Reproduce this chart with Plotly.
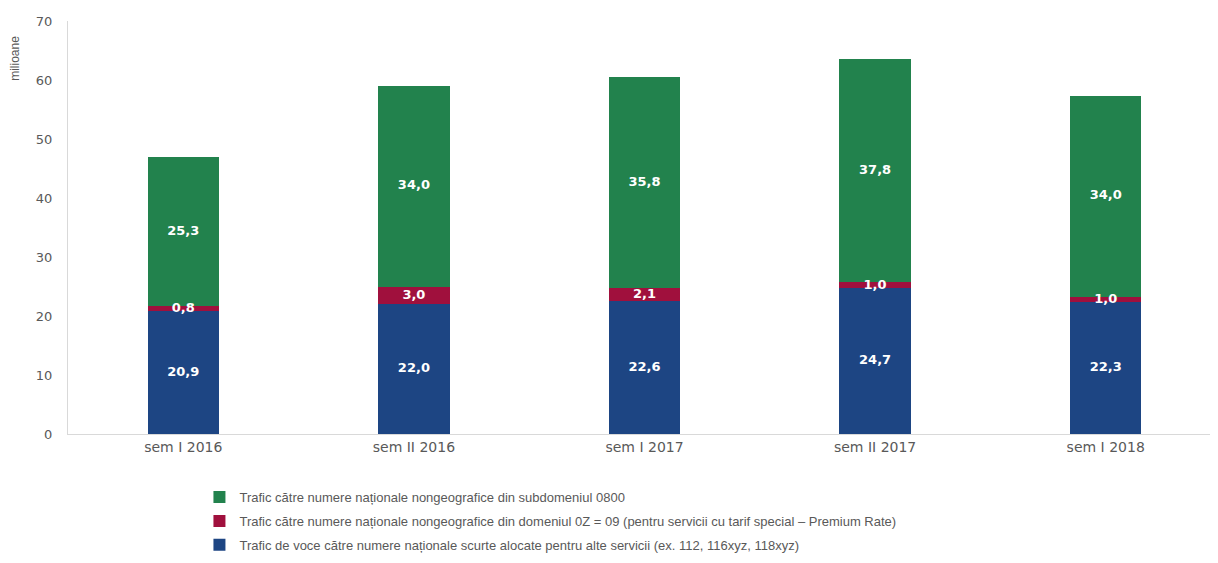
import plotly.graph_objects as go

# Data (milioane)
categories = ["sem I 2016", "sem II 2016", "sem I 2017", "sem II 2017", "sem I 2018"]
voce_scurte = [20.9, 22.0, 22.6, 24.7, 22.3]
premium_rate = [0.8, 3.0, 2.1, 1.0, 1.0]
subdomeniul_0800 = [25.3, 34.0, 35.8, 37.8, 34.0]
y_ticks = [0, 10, 20, 30, 40, 50, 60, 70]

names = [
    "Trafic de voce către numere naționale scurte alocate pentru alte servicii (ex. 112, 116xyz, 118xyz)",
    "Trafic către numere naționale nongeografice din domeniul 0Z = 09 (pentru servicii cu tarif special – Premium Rate)",
    "Trafic către numere naționale nongeografice din subdomeniul 0800",
]
series = [voce_scurte, premium_rate, subdomeniul_0800]
colors = ["#1d4583", "#a0103d", "#22824d"]

AXIS_FONT = "DejaVu Sans, Verdana, sans-serif"
LEGEND_FONT = "Liberation Sans, Arial, sans-serif"

fig = go.Figure()

base = [0.0] * len(categories)
for i, (name, vals, col) in enumerate(zip(names, series, colors)):
    # legend lists the top segment first
    rank = (len(series) - i) * 10
    fig.add_trace(go.Bar(
        x=categories, y=vals, name=name,
        marker=dict(color=col, line=dict(width=0)),
        width=0.31, legendgroup=f"g{i}", legendrank=rank,
        hoverinfo="skip",
    ))
    # value labels at the middle of each segment
    mids = [b + v / 2 for b, v in zip(base, vals)]
    fig.add_trace(go.Scatter(
        x=categories, y=mids, mode="text",
        text=[f"{v:.1f}".replace(".", ",") for v in vals],
        textfont=dict(family=AXIS_FONT, size=13, color="white", weight="bold"),
        showlegend=False, hoverinfo="skip",
        legendgroup=f"g{i}", legendrank=rank,
    ))
    base = [b + v for b, v in zip(base, vals)]

fig.update_layout(
    barmode="stack",
    width=1218, height=563,
    margin=dict(l=60, r=5, t=13, b=137),
    plot_bgcolor="white", paper_bgcolor="white",
    font=dict(family=AXIS_FONT, size=13, color="#595959"),
    showlegend=True,
    legend=dict(
        orientation="v", traceorder="grouped",
        x=0.114, xanchor="left",
        yref="container", y=0.158, yanchor="top",
        font=dict(family=LEGEND_FONT, size=13, color="#595959"),
        tracegroupgap=4, itemsizing="constant",
        bgcolor="rgba(0,0,0,0)",
    ),
    annotations=[dict(
        text="milioane", textangle=-90,
        xref="paper", yref="paper", x=-0.046, y=0.97,
        xanchor="center", yanchor="top", showarrow=False,
        font=dict(family=LEGEND_FONT, size=12, color="#595959"),
    )],
)

fig.update_xaxes(
    showline=True, linecolor="#d9d9d9", linewidth=1,
    ticks="", tickfont=dict(family=AXIS_FONT, size=14, color="#595959"),
    showgrid=False, automargin=False,
)
fig.update_yaxes(
    range=[0, 70], tickvals=y_ticks,
    showline=True, linecolor="#d9d9d9", linewidth=1,
    showgrid=False, zeroline=False, automargin=False,
    tickfont=dict(family=AXIS_FONT, size=13, color="#595959"),
    ticklabelstandoff=12,
)

fig.write_html("out.html")
